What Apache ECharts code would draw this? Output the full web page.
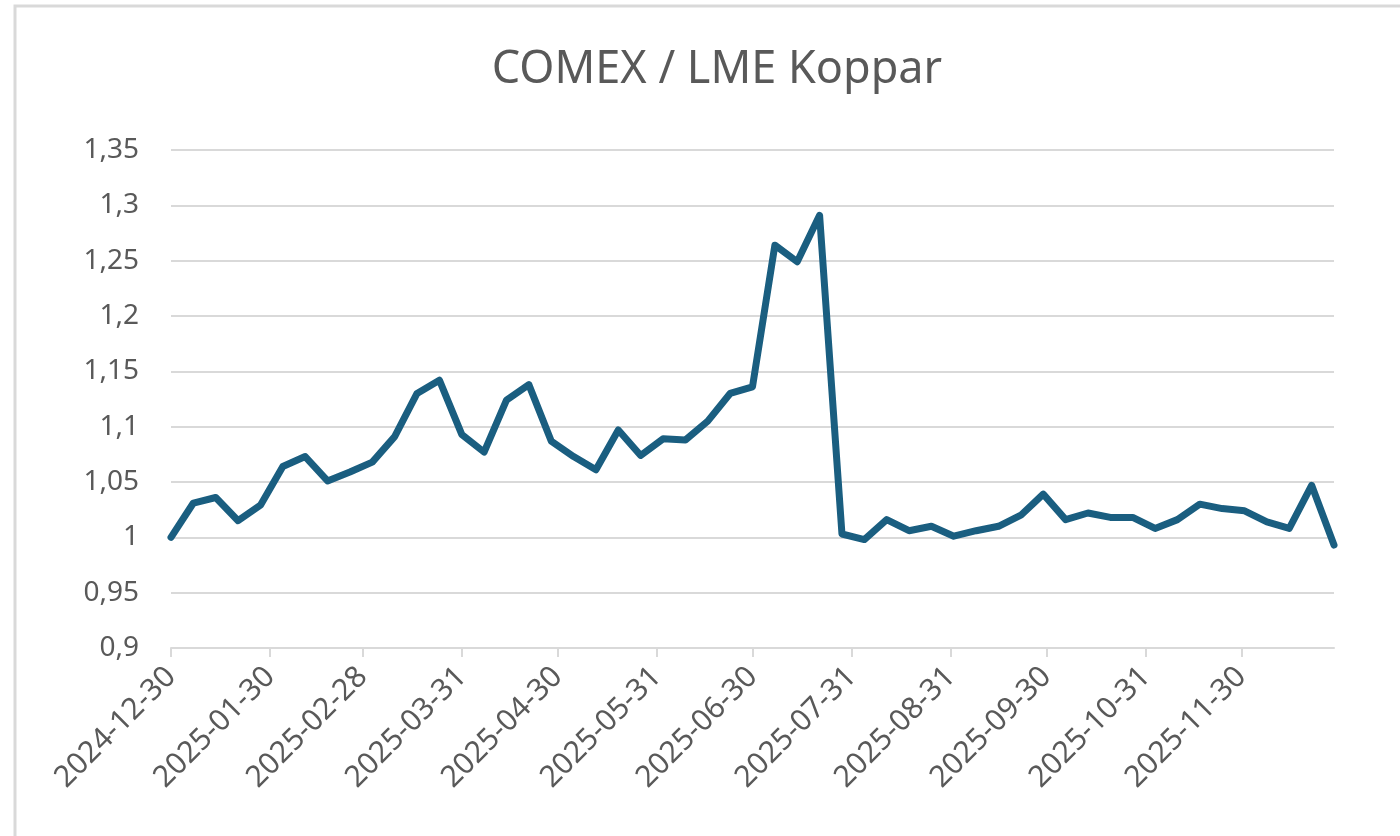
<!DOCTYPE html>
<html>
<head>
<meta charset="utf-8">
<script src="https://cdn.jsdelivr.net/npm/echarts@6/dist/echarts.min.js"></script>
<style>
  html, body { margin: 0; padding: 0; background: #fff; }
  #chart { width: 1400px; height: 836px; }
</style>
</head>
<body>
<div id="chart"></div>
<script>
var chartTitle = 'COMEX / LME Koppar';

// weekly observations (Mondays)
var dates = [
    '2024-12-30', '2025-01-06', '2025-01-13', '2025-01-20', '2025-01-27',
    '2025-02-03', '2025-02-10', '2025-02-17', '2025-02-24', '2025-03-03',
    '2025-03-10', '2025-03-17', '2025-03-24', '2025-03-31', '2025-04-07',
    '2025-04-14', '2025-04-21', '2025-04-28', '2025-05-05', '2025-05-12',
    '2025-05-19', '2025-05-26', '2025-06-02', '2025-06-09', '2025-06-16',
    '2025-06-23', '2025-06-30', '2025-07-07', '2025-07-14', '2025-07-21',
    '2025-07-28', '2025-08-04', '2025-08-11', '2025-08-18', '2025-08-25',
    '2025-09-01', '2025-09-08', '2025-09-15', '2025-09-22', '2025-09-29',
    '2025-10-06', '2025-10-13', '2025-10-20', '2025-10-27', '2025-11-03',
    '2025-11-10', '2025-11-17', '2025-11-24', '2025-12-01', '2025-12-08',
    '2025-12-15', '2025-12-22', '2025-12-29'
];

// COMEX / LME ratio
var ratio = [
    1.000, 1.031, 1.036, 1.015, 1.029, 1.064, 1.073, 1.051, 1.059, 1.068,
    1.091, 1.130, 1.142, 1.093, 1.077, 1.124, 1.138, 1.087, 1.073, 1.061,
    1.097, 1.074, 1.089, 1.088, 1.105, 1.130, 1.136, 1.264, 1.249, 1.291,
    1.003, 0.998, 1.016, 1.006, 1.010, 1.001, 1.006, 1.010, 1.020, 1.039,
    1.016, 1.022, 1.018, 1.018, 1.008, 1.016, 1.030, 1.026, 1.024, 1.014,
    1.008, 1.047, 0.993
];

var xTickLabels = [
    '2024-12-30', '2025-01-30', '2025-02-28', '2025-03-31', '2025-04-30', '2025-05-31',
    '2025-06-30', '2025-07-31', '2025-08-31', '2025-09-30', '2025-10-31', '2025-11-30'
];

var textColor = '#595959';
var gridColor = '#d9d9d9';
var fontFam = '"Noto Sans", sans-serif';

// x is days since the first date (Excel-style date axis)
var DAY = 86400000;
var t0 = Date.parse(dates[0]);
function dayOf(s) { return Math.round((Date.parse(s) - t0) / DAY); }

var seriesData = [];
for (var i = 0; i < dates.length; i++) {
    seriesData.push([dayOf(dates[i]), ratio[i]]);
}
var tickValues = [];
var tickText = {};
xTickLabels.forEach(function (s) {
    var d = dayOf(s);
    tickValues.push(d);
    tickText[d] = s;
});

var myChart = echarts.init(document.getElementById('chart'));

var option = {
    backgroundColor: '#fff',
    animation: false,
    textStyle: { fontFamily: fontFam },
    title: {
        text: chartTitle,
        left: 712,
        top: 43,
        textAlign: 'center',
        textStyle: {
            fontFamily: fontFam,
            fontSize: 45,
            fontWeight: 'normal',
            color: textColor
        }
    },
    graphic: [{
        type: 'rect',
        silent: true,
        shape: { x: 15, y: 6, width: 1420, height: 900 },
        style: { fill: 'none', stroke: gridColor, lineWidth: 3 }
    }],
    grid: {
        left: 171,
        right: 66,
        top: 150,
        bottom: 188,
        containLabel: false,
        outerBoundsMode: 'none'
    },
    xAxis: {
        type: 'value',
        min: 0,
        max: dayOf(dates[dates.length - 1]),
        axisLine: {
            show: true,
            onZero: false,
            lineStyle: { color: gridColor, width: 2 }
        },
        axisTick: {
            show: true,
            customValues: tickValues,
            length: 9,
            lineStyle: { color: gridColor, width: 2 }
        },
        axisLabel: {
            customValues: tickValues,
            rotate: 45,
            margin: 24,
            fontSize: 30,
            color: textColor,
            fontFamily: fontFam,
            formatter: function (v) {
                return tickText[Math.round(v)] || '';
            }
        },
        splitLine: { show: false }
    },
    yAxis: {
        type: 'value',
        min: 0.9,
        max: 1.35,
        interval: 0.05,
        axisLine: { show: false },
        axisTick: { show: false },
        axisLabel: {
            margin: 32,
            fontSize: 28,
            color: textColor,
            fontFamily: fontFam,
            formatter: function (v) {
                return String(parseFloat(v.toFixed(2))).replace('.', ',');
            }
        },
        splitLine: {
            lineStyle: { color: gridColor, width: 2 }
        }
    },
    series: [{
        name: chartTitle,
        type: 'line',
        data: seriesData,
        showSymbol: false,
        symbol: 'none',
        lineStyle: {
            color: '#1a5e80',
            width: 7,
            join: 'round',
            cap: 'round'
        }
    }]
};

myChart.setOption(option);
</script>
</body>
</html>
